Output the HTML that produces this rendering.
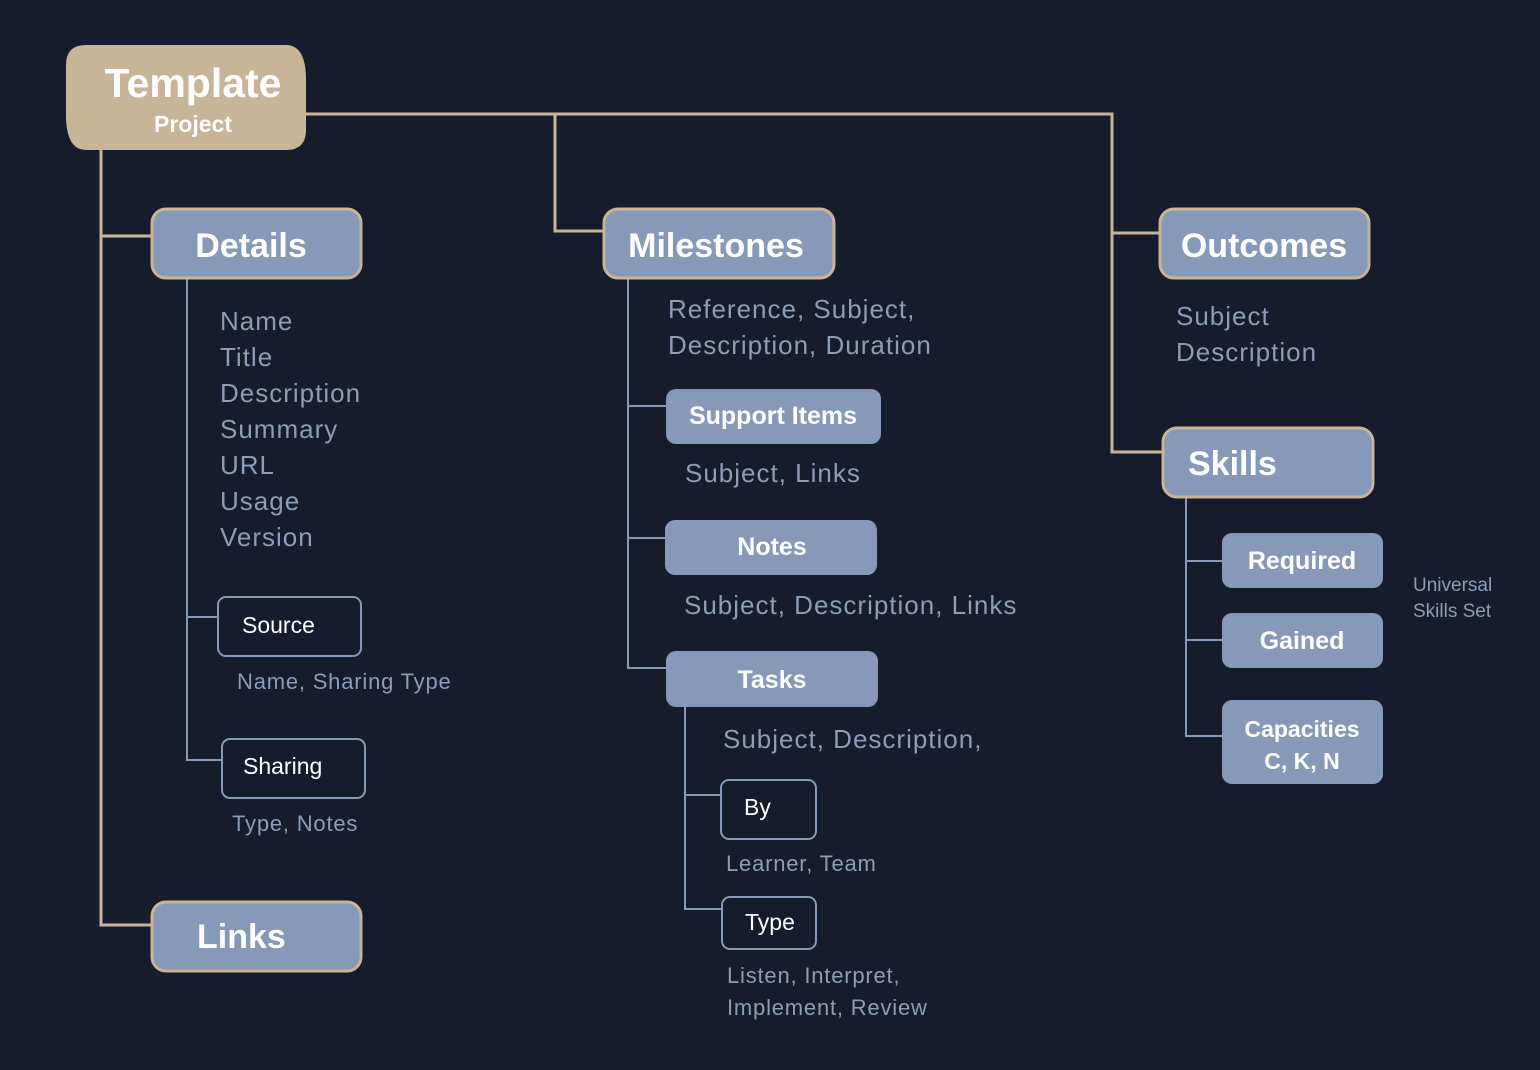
<!DOCTYPE html>
<html><head><meta charset="utf-8"><style>
html,body{margin:0;padding:0;background:#161c2b;width:1540px;height:1070px;overflow:hidden}
svg{display:block}
text{font-family:"Liberation Sans",sans-serif}
.h{font-weight:bold;fill:#fff}
.t{fill:#8c9cb9}
.w{fill:#fff}
</style></head><body>
<svg width="1540" height="1070" viewBox="0 0 1540 1070">
<g stroke="#c8b497" stroke-width="3" fill="none">
<path d="M101 150V925H151M101 236H151"/>
<path d="M306 114H1112V452H1162M1112 233H1159M555 114V231H603"/>
</g>
<g stroke="#8699b8" stroke-width="2" fill="none">
<path d="M187 278V760H222M187 617H218"/>
<path d="M628 278V668H666M628 406H666M628 538H665"/>
<path d="M685 707V909H722M685 795H721"/>
<path d="M1186 497V736H1222M1186 561H1222M1186 640H1222"/>
</g>
<path d="M86 45H286Q306 45 306 80V130Q306 150 286 150H86Q66 150 66 115V65Q66 45 86 45Z" fill="#c8b497"/>
<text x="193" y="97" class="h" font-size="41" text-anchor="middle">Template</text>
<text x="193" y="132" class="h" font-size="23" text-anchor="middle">Project</text>
<g fill="#8699b8" stroke="#c8b497" stroke-width="3">
<rect x="152" y="209" width="209" height="69" rx="14"/>
<rect x="604" y="209" width="230" height="69" rx="14"/>
<rect x="1160" y="209" width="209" height="69" rx="14"/>
<rect x="1163" y="428" width="210" height="69" rx="14"/>
<rect x="152" y="902" width="209" height="69" rx="14"/>
</g>
<text x="251" y="257" class="h" font-size="34" text-anchor="middle">Details</text>
<text x="716" y="257" class="h" font-size="34" text-anchor="middle">Milestones</text>
<text x="1264" y="257" class="h" font-size="34" text-anchor="middle">Outcomes</text>
<text x="1188" y="475" class="h" font-size="34">Skills</text>
<text x="197" y="948" class="h" font-size="34">Links</text>
<g font-size="26" class="t" letter-spacing="1">
<text x="220" y="330">Name</text><text x="220" y="366">Title</text><text x="220" y="402">Description</text>
<text x="220" y="438">Summary</text><text x="220" y="474">URL</text><text x="220" y="510">Usage</text><text x="220" y="546">Version</text>
<text x="668" y="318">Reference, Subject,</text><text x="668" y="354">Description, Duration</text>
<text x="685" y="482">Subject, Links</text>
<text x="684" y="614">Subject, Description, Links</text>
<text x="723" y="748">Subject, Description,</text>
<text x="1176" y="325">Subject</text><text x="1176" y="361">Description</text>
</g>
<g font-size="22" class="t" letter-spacing="0.8">
<text x="237" y="689">Name, Sharing Type</text>
<text x="232" y="831">Type, Notes</text>
<text x="726" y="871">Learner, Team</text>
<text x="727" y="983">Listen, Interpret,</text>
<text x="727" y="1015">Implement, Review</text>
</g>
<text x="1413" y="591" font-size="19" class="t">Universal</text>
<text x="1413" y="617" font-size="19" class="t">Skills Set</text>
<g fill="#161c2b" stroke="#8699b8" stroke-width="2">
<rect x="218" y="597" width="143" height="59" rx="8"/>
<rect x="222" y="739" width="143" height="59" rx="8"/>
<rect x="721" y="780" width="95" height="59" rx="8"/>
<rect x="722" y="897" width="94" height="52" rx="8"/>
</g>
<g font-size="23" class="w">
<text x="242" y="633">Source</text>
<text x="243" y="774">Sharing</text>
<text x="744" y="815">By</text>
<text x="745" y="930">Type</text>
</g>
<g fill="#8699b8">
<rect x="666" y="389" width="215" height="55" rx="10"/>
<rect x="665" y="520" width="212" height="55" rx="10"/>
<rect x="666" y="651" width="212" height="56" rx="10"/>
<rect x="1222" y="533" width="161" height="55" rx="10"/>
<rect x="1222" y="613" width="161" height="55" rx="10"/>
<rect x="1222" y="700" width="161" height="84" rx="10"/>
</g>
<g font-size="25" class="w" font-weight="bold" text-anchor="middle">
<text x="773" y="424">Support Items</text>
<text x="772" y="555">Notes</text>
<text x="772" y="688">Tasks</text>
<text x="1302" y="569">Required</text>
<text x="1302" y="649">Gained</text>
<text x="1302" y="737" font-size="23">Capacities</text>
<text x="1302" y="769" font-size="23">C, K, N</text>
</g>
</svg>
</body></html>
